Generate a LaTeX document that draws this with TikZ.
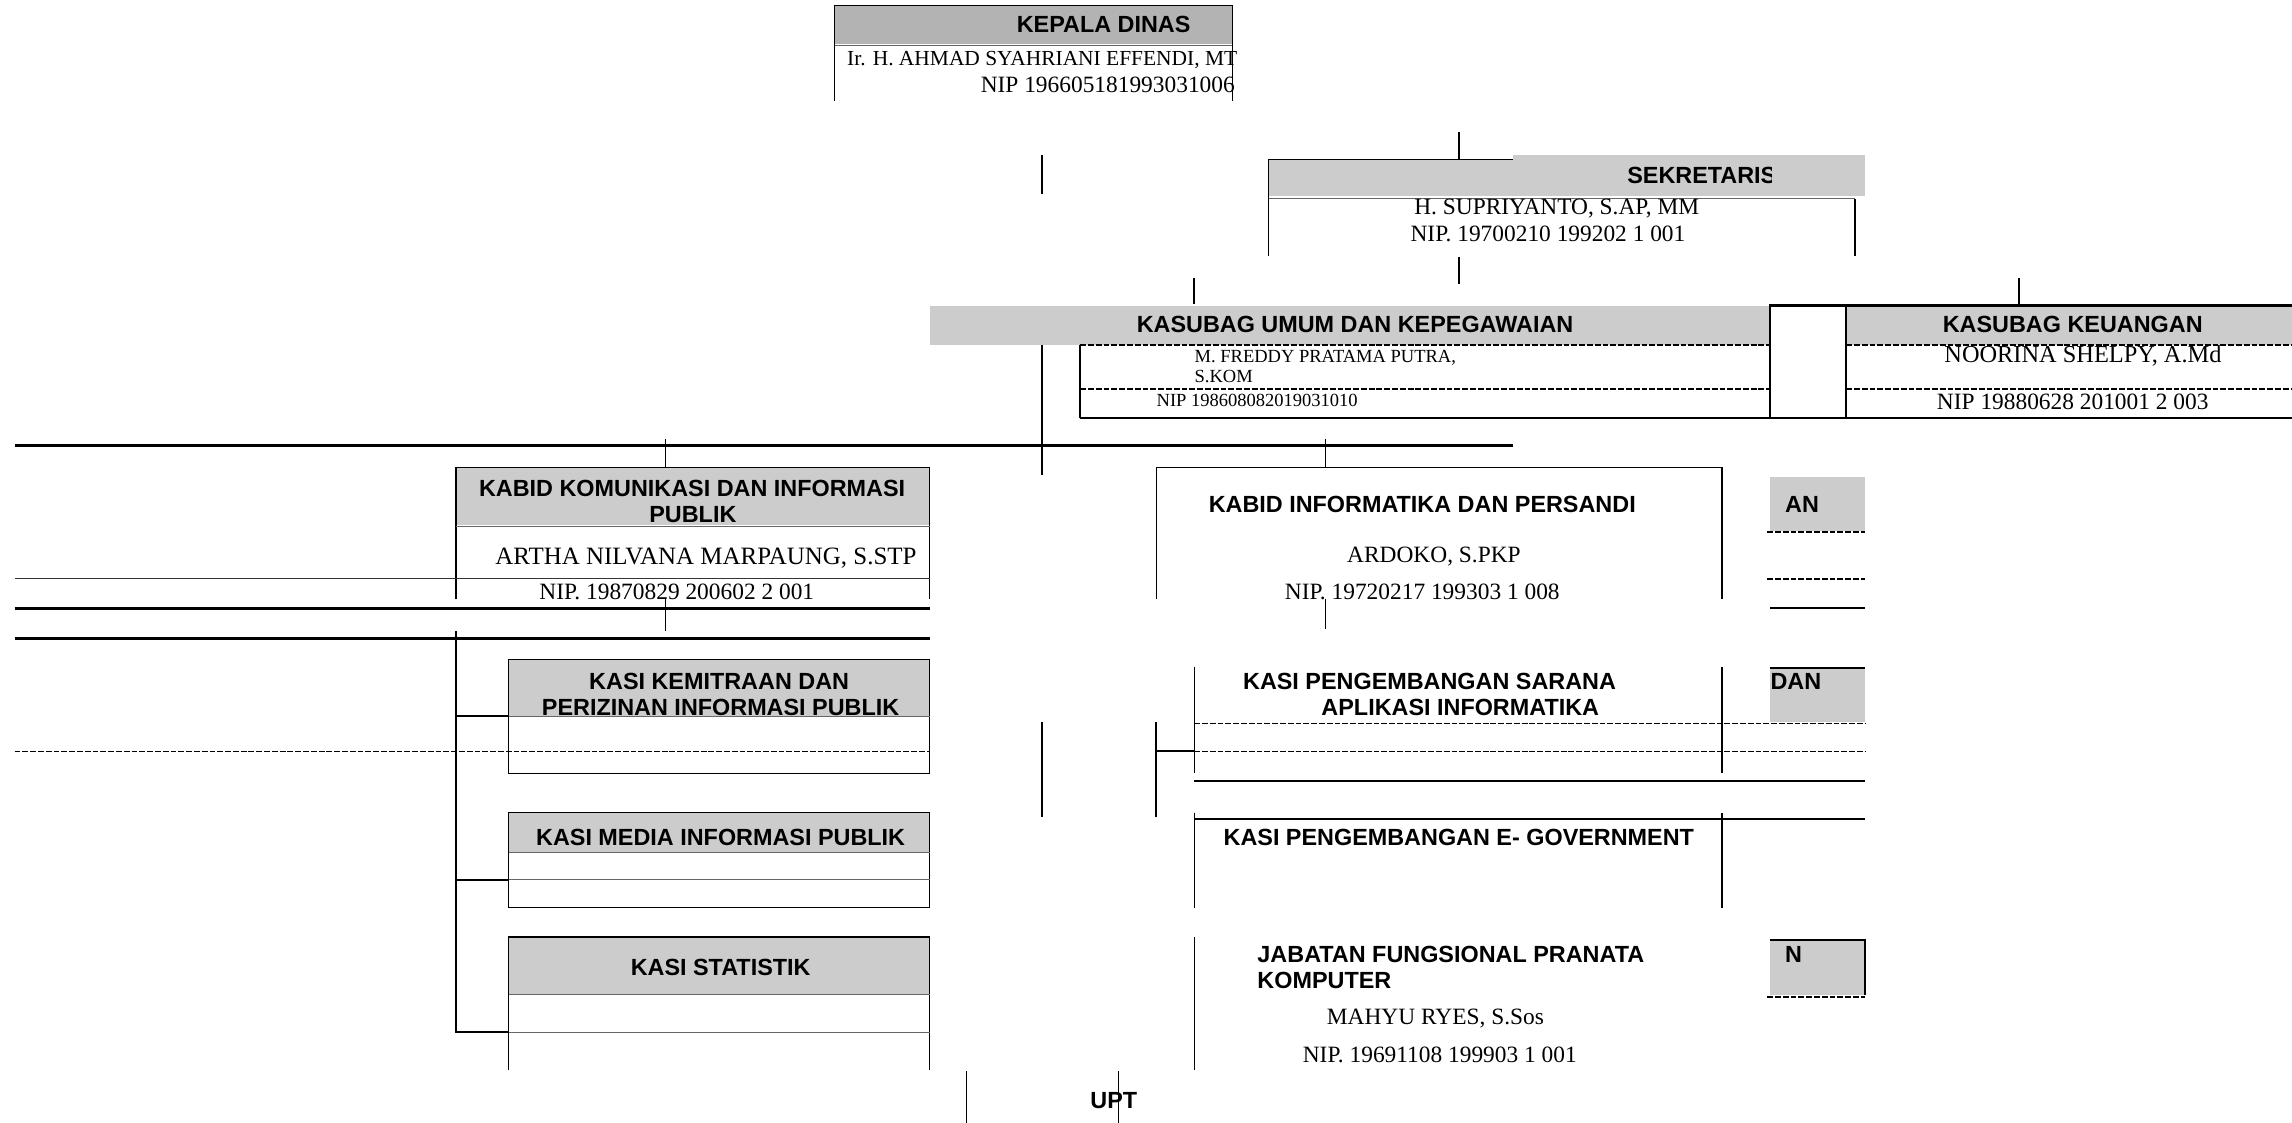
\documentclass[tikz,border=0pt]{standalone}
\usepackage{fontspec}
\setmainfont{Liberation Serif}
\setsansfont{Liberation Sans}
\definecolor{hdgray}{HTML}{CCCCCC}
\definecolor{kdgray}{HTML}{B3B3B3}
\begin{document}
\begin{tikzpicture}[x=0.75pt,y=-0.75pt,
 hd/.style={font=\sffamily\bfseries\fontsize{12}{14}\selectfont,inner sep=0pt,anchor=base},
 nm/.style={font=\fontsize{12}{14}\selectfont,inner sep=0pt,anchor=base},
 sm/.style={font=\fontsize{9.5}{11}\selectfont,inner sep=0pt,anchor=base west},
 bline/.style={line width=0.6pt},
 hline/.style={line width=1.5pt},
 mline/.style={line width=1.1pt},
 dotline/.style={line width=0.5pt,draw=black!60},
 dashline/.style={line width=0.8pt,dash pattern=on 3pt off 1pt},
 hfill/.style={fill=hdgray,draw=none}]
\useasboundingbox[fill=white] (0,0) rectangle (1568,768);

% ---------------- KEPALA DINAS
\fill[kdgray] (571,4) rectangle (843,30);
\draw[bline] (571,69)--(571,4)--(843,4)--(843,69);
\draw[dotline] (571,31)--(843,31);
\node[hd] (kd) at (755,22.5) {KEPALA DINAS};
\node[nm,font=\fontsize{11}{13}\selectfont] (kdn) at (713,45) {Ir. H. AHMAD SYAHRIANI EFFENDI, MT};
\node[nm,anchor=base east] (kdnip) at (845,63) {NIP 196605181993031006};
\draw[mline] (713,106)--(713,133);

% ---------------- SEKRETARIS
\draw[mline] (998,90)--(998,109);
\fill[hdgray] (868,109) rectangle (1276,134);
\fill[hdgray] (1035,106) rectangle (1276,109);
\draw[bline] (868,175)--(868,109)--(1035,109);
\draw[dotline] (868,136)--(1269,136);
\draw[bline] (1269,136)--(1269,175);
\begin{scope}
\clip (1035,100) rectangle (1212,140);
\node[hd,anchor=base west] (sek) at (1113,125.5) {SEKRETARIS};
\end{scope}
\node[nm] (sekn) at (1065,147) {H. SUPRIYANTO, S.AP, MM};
\node[nm] (seknip) at (1059,165) {NIP. 19700210 199202 1 001};
\draw[mline] (998,176)--(998,194);

% ---------------- KASUBAG
\draw[mline] (817,190)--(817,208);
\draw[mline] (1381,190)--(1381,209);
\fill[hdgray] (636,209) rectangle (1211,236);
\fill[hdgray] (1263,209) rectangle (1568,236);
\draw[mline] (1211,209) rectangle (1263,286);
\draw[mline] (1263,209)--(1568,209);
\draw[mline] (739,286)--(1568,286);
\draw[mline] (739,236)--(739,286);
\draw[dashline] (739,236)--(1211,236) (1263,236)--(1568,236);
\draw[dashline] (739,266)--(1211,266) (1263,266)--(1568,266);
\node[hd] (kum) at (927,227.5) {KASUBAG UMUM DAN KEPEGAWAIAN};
\node[sm] (kumn1) at (817,248) {M. FREDDY PRATAMA PUTRA,};
\node[sm] (kumn2) at (817,262) {S.KOM};
\node[sm] (kumnip) at (791,278) {NIP 198608082019031010};
\node[hd] (keu) at (1418,227.5) {KASUBAG KEUANGAN};
\node[nm,font=\fontsize{12.5}{14}\selectfont] (keun) at (1425,248) {NOORINA SHELPY, A.Md};
\node[nm] (keunip) at (1418,280) {NIP 19880628 201001 2 003};

\draw[mline] (713,236)--(713,325);

% ---------------- main horizontal bus
\draw[hline] (10,305)--(1035,305);
\draw[bline] (455,300)--(455,320);
\draw[bline] (907,300)--(907,320);

% ---------------- KABID KOMUNIKASI
\fill[hdgray] (312,320) rectangle (636,359);
\draw[bline] (312,410)--(312,320)--(636,320)--(636,410);
\draw[dotline] (312,360)--(636,360);
\draw[dotline,draw=black!80] (10,396)--(636,396);
\node[hd] (kk1) at (473.5,339.5) {KABID KOMUNIKASI DAN INFORMASI};
\node[hd] (kk2) at (474,357.5) {PUBLIK};
\node[nm,font=\fontsize{12.8}{14}\selectfont] (kkn) at (483,386) {ARTHA NILVANA MARPAUNG, S.STP};
\node[nm] (kknip) at (463,410) {NIP. 19870829 200602 2 001};
\draw[hline] (10,416)--(636,416);
\draw[bline] (455,410)--(455,432);
\draw[hline] (10,437)--(636,437);

% ---------------- KABID INFORMATIKA
\draw[bline] (791,410)--(791,320)--(1178,320)--(1178,410);
\node[hd] (ki) at (973,350.5) {KABID INFORMATIKA DAN PERSANDI};
\node[nm] (kin) at (981,385) {ARDOKO, S.PKP};
\node[nm] (kinip) at (973,410) {NIP. 19720217 199303 1 008};
\draw[bline] (907,410)--(907,430);

% ---------------- right fragments
\fill[hdgray] (1211,326) rectangle (1276,363);
\node[hd,anchor=base west] (an) at (1221,350.5) {AN};
\draw[dashline] (1209,364)--(1276,364) (1209,396)--(1276,396);
\draw[mline] (1211,416)--(1276,416);

% ---------------- KASI left column
\draw[bline] (312,432)--(312,706)--(348,706);
\draw[mline] (312,490)--(348,490);
\draw[mline] (312,602)--(348,602);

\fill[hdgray] (348,451) rectangle (636,490);
\draw[bline] (348,451) rectangle (636,529);
\draw[dotline] (348,490)--(636,490);
\draw[dashline] (10,514)--(636,514);
\node[hd] (kem1) at (492,471.5) {KASI KEMITRAAN DAN};
\node[hd] (kem2) at (493,489.5) {PERIZINAN INFORMASI PUBLIK};

\fill[hdgray] (348,556) rectangle (636,583);
\draw[bline] (348,556) rectangle (636,621);
\draw[dotline] (348,583)--(636,583) (348,602)--(636,602);
\node[hd] (med) at (493,578.5) {KASI MEDIA INFORMASI PUBLIK};

\fill[hdgray] (348,641) rectangle (636,680);
\draw[bline] (348,732)--(348,641)--(636,641)--(636,732);
\draw[dotline] (348,680)--(636,680) (348,706)--(636,706);
\node[hd] (sta) at (493,667.5) {KASI STATISTIK};

% ---------------- KASI right column
\draw[mline] (713,494)--(713,559);
\draw[mline] (791,494)--(791,559);
\draw[mline] (791,514)--(817,514);

\draw[bline] (817,456)--(817,529) (1178,456)--(1178,529);
\draw[dashline] (817,495)--(1276,495) (817,514)--(1276,514);
\draw[mline] (817,534)--(1276,534);
\node[hd] (sar1) at (978,471.5) {KASI PENGEMBANGAN SARANA};
\node[hd] (sar2) at (999,489.5) {APLIKASI INFORMATIKA};
\fill[hdgray] (1211,457) rectangle (1276,494);
\draw[mline] (1211,457)--(1276,457);
\node[hd,anchor=base west] (dan) at (1211,471.5) {DAN};

\draw[mline] (817,560)--(1276,560);
\draw[bline] (817,556)--(817,621) (1178,556)--(1178,621);
\node[hd] (egov) at (998,578.5) {KASI PENGEMBANGAN E- GOVERNMENT};

\draw[bline] (817,641)--(817,732);
\node[hd,anchor=base west] (jab1) at (860,658.5) {JABATAN FUNGSIONAL PRANATA};
\node[hd,anchor=base west] (jab2) at (860,676.5) {KOMPUTER};
\node[nm] (jabn) at (982,701) {MAHYU RYES, S.Sos};
\node[nm] (jabnip) at (985,727) {NIP. 19691108 199903 1 001};

\fill[hdgray] (1211,643) rectangle (1276,681);
\draw[mline] (1211,643)--(1276,643)--(1276,681);
\draw[dashline] (1209,682)--(1276,682);
\node[hd,anchor=base west] (nn) at (1221,658.5) {N};

% ---------------- UPT
\draw[bline] (661,733)--(661,768);
\node[hd] (upt) at (762,758.5) {UPT};
\draw[bline] (765,733)--(765,768);
\end{tikzpicture}
\end{document}
